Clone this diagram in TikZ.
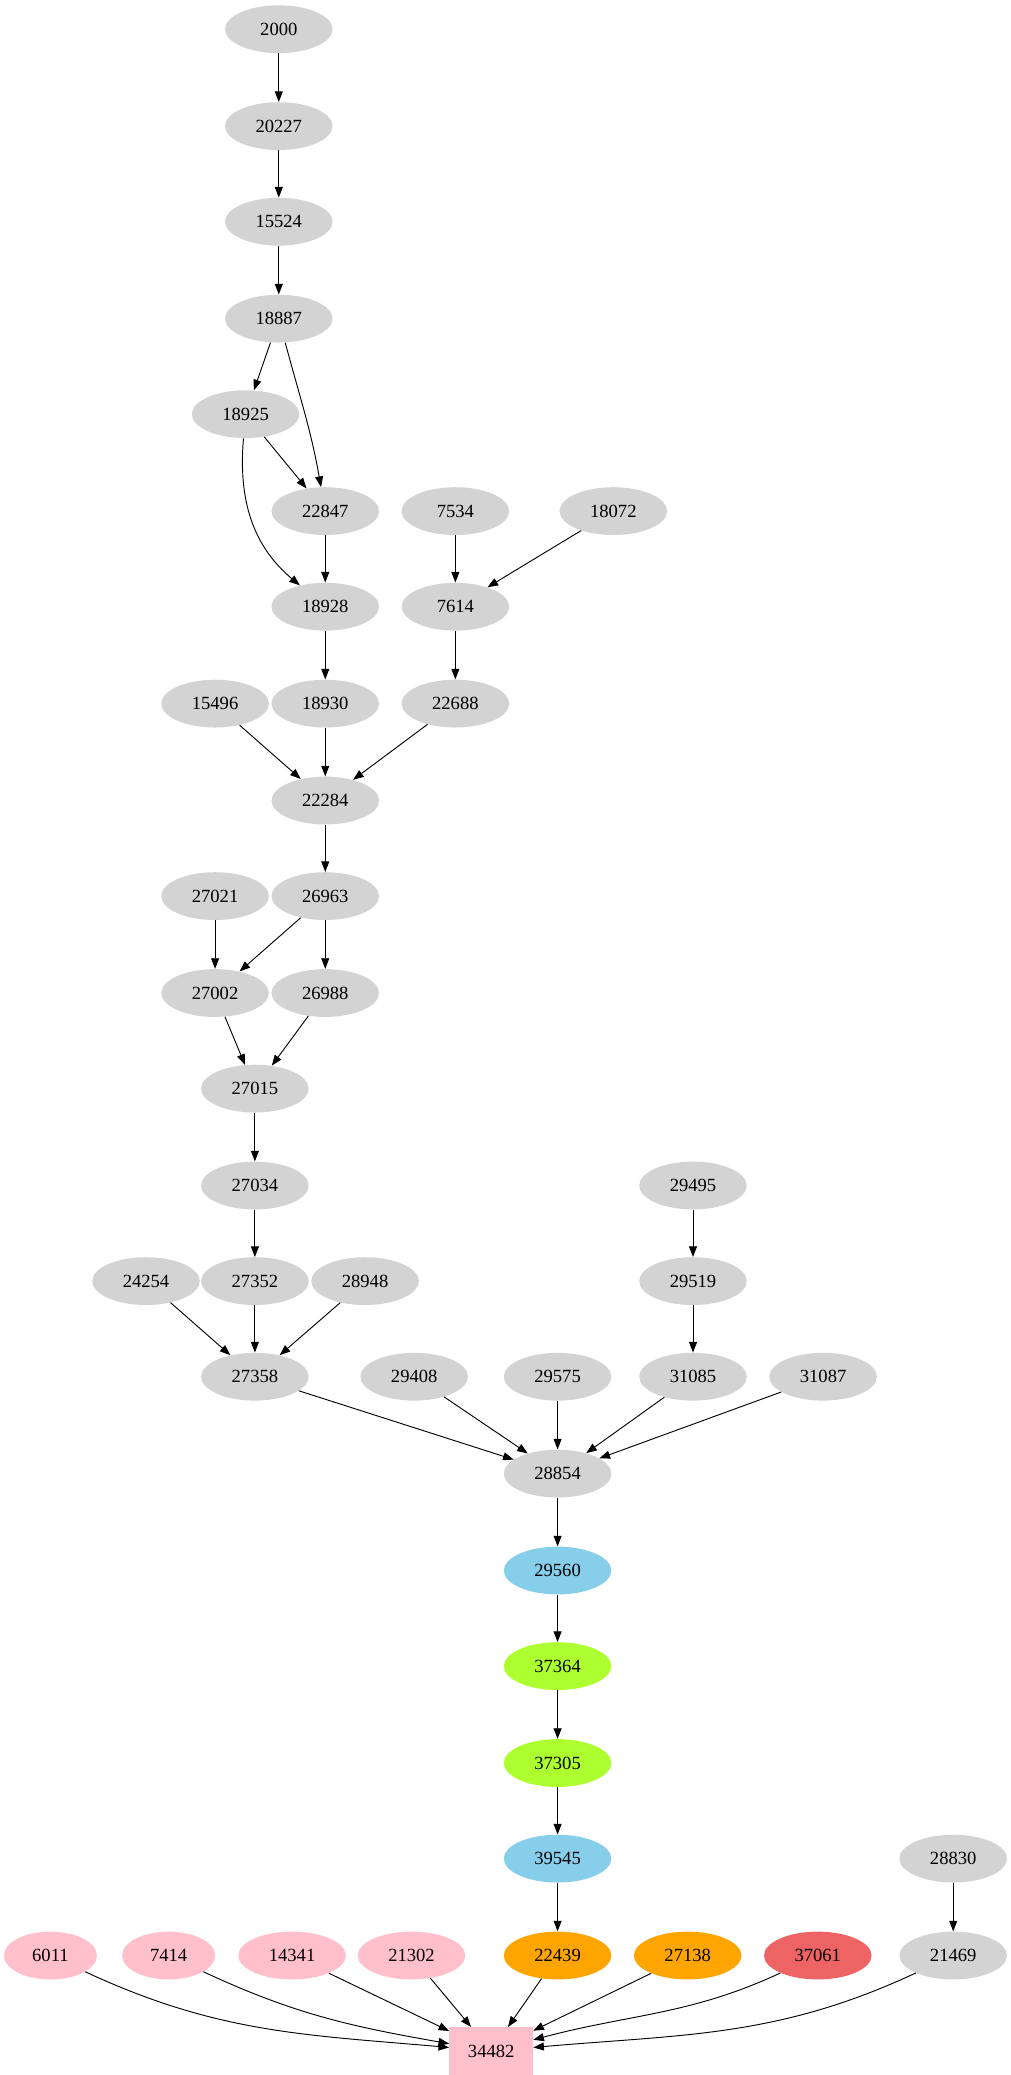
\documentclass[tikz,border=0pt]{standalone}
\usepackage{fontspec}
\setmainfont{Liberation Serif}
\usetikzlibrary{shapes.geometric,arrows.meta}
\definecolor{lg}{HTML}{D3D3D3}
\definecolor{pk}{HTML}{FFC0CB}
\definecolor{sb}{HTML}{87CEEB}
\definecolor{gy}{HTML}{ADFF2F}
\definecolor{orng}{HTML}{FFA500}
\definecolor{rd}{HTML}{EE6363}
\begin{document}
\begin{tikzpicture}[x=1pt,y=-1pt,
  nd/.style={ellipse,fill=lg,minimum width=81pt,minimum height=36pt,inner sep=0pt,font=\fontsize{14}{16}\selectfont},
  e/.style={-{Triangle[length=8pt,width=6pt]},line width=0.7pt}]
\useasboundingbox (0,0) rectangle (761,1563);
\node[nd] (n2000) at (210,22) {2000};
\node[nd] (n20227) at (210,95) {20227};
\node[nd] (n15524) at (210,167) {15524};
\node[nd] (n18887) at (210,240) {18887};
\node[nd] (n18925) at (185,312) {18925};
\node[nd] (n22847) at (245,385) {22847};
\node[nd] (n7534) at (343,385) {7534};
\node[nd] (n18072) at (462,385) {18072};
\node[nd] (n18928) at (245,457) {18928};
\node[nd] (n7614) at (343,457) {7614};
\node[nd] (n15496) at (162,530) {15496};
\node[nd] (n18930) at (245,530) {18930};
\node[nd] (n22688) at (343,530) {22688};
\node[nd] (n22284) at (245,603) {22284};
\node[nd] (n27021) at (162,675) {27021};
\node[nd] (n26963) at (245,675) {26963};
\node[nd] (n27002) at (162,748) {27002};
\node[nd] (n26988) at (245,748) {26988};
\node[nd] (n27015) at (192,820) {27015};
\node[nd] (n27034) at (192,893) {27034};
\node[nd] (n29495) at (522,893) {29495};
\node[nd] (n24254) at (110,965) {24254};
\node[nd] (n27352) at (192,965) {27352};
\node[nd] (n28948) at (275,965) {28948};
\node[nd] (n29519) at (522,965) {29519};
\node[nd] (n27358) at (192,1037) {27358};
\node[nd] (n29408) at (312,1037) {29408};
\node[nd] (n29575) at (420,1037) {29575};
\node[nd] (n31085) at (522,1037) {31085};
\node[nd] (n31087) at (620,1037) {31087};
\node[nd] (n28854) at (420,1110) {28854};
\node[nd,fill=sb] (n29560) at (420,1183) {29560};
\node[nd,fill=gy] (n37364) at (420,1255) {37364};
\node[nd,fill=gy] (n37305) at (420,1328) {37305};
\node[nd,fill=sb] (n39545) at (420,1400) {39545};
\node[nd] (n28830) at (718,1400) {28830};
\node[nd,fill=pk,minimum width=70pt] (n6011) at (38,1473) {6011};
\node[nd,fill=pk,minimum width=70pt] (n7414) at (127,1473) {7414};
\node[nd,fill=pk] (n14341) at (220,1473) {14341};
\node[nd,fill=pk] (n21302) at (310,1473) {21302};
\node[nd,fill=orng] (n22439) at (420,1473) {22439};
\node[nd,fill=orng] (n27138) at (518,1473) {27138};
\node[nd,fill=rd] (n37061) at (616,1473) {37061};
\node[nd] (n21469) at (718,1473) {21469};
\node[rectangle,fill=pk,minimum width=63pt,minimum height=36pt,inner sep=0pt,font=\fontsize{14}{16}\selectfont] (n34482) at (370,1545) {34482};
\draw[e] (n2000)--(n20227);
\draw[e] (n20227)--(n15524);
\draw[e] (n15524)--(n18887);
\draw[e] (n18887)--(n18925);
\draw[e] (n18887) to[out=-75,in=100] (n22847);
\draw[e] (n18925)--(n22847);
\draw[e] (n18925) to[out=-95,in=140] (n18928);
\draw[e] (n22847)--(n18928);
\draw[e] (n7534)--(n7614);
\draw[e] (n18072)--(n7614);
\draw[e] (n18928)--(n18930);
\draw[e] (n7614)--(n22688);
\draw[e] (n15496)--(n22284);
\draw[e] (n18930)--(n22284);
\draw[e] (n22688)--(n22284);
\draw[e] (n22284)--(n26963);
\draw[e] (n27021)--(n27002);
\draw[e] (n26963)--(n27002);
\draw[e] (n26963)--(n26988);
\draw[e] (n27002)--(n27015);
\draw[e] (n26988)--(n27015);
\draw[e] (n27015)--(n27034);
\draw[e] (n27034)--(n27352);
\draw[e] (n29495)--(n29519);
\draw[e] (n24254)--(n27358);
\draw[e] (n27352)--(n27358);
\draw[e] (n28948)--(n27358);
\draw[e] (n29519)--(n31085);
\draw[e] (n27358)--(n28854);
\draw[e] (n29408)--(n28854);
\draw[e] (n29575)--(n28854);
\draw[e] (n31085)--(n28854);
\draw[e] (n31087)--(n28854);
\draw[e] (n28854)--(n29560);
\draw[e] (n29560)--(n37364);
\draw[e] (n37364)--(n37305);
\draw[e] (n37305)--(n39545);
\draw[e] (n39545)--(n22439);
\draw[e] (n28830)--(n21469);
\draw[e] (n6011) to[out=-25,in=175] (n34482);
\draw[e] (n7414) to[out=-25,in=170] (n34482);
\draw[e] (n14341)--(n34482);
\draw[e] (n21302)--(n34482);
\draw[e] (n22439)--(n34482);
\draw[e] (n27138)--(n34482);
\draw[e] (n37061) to[out=-155,in=15] (n34482);
\draw[e] (n21469) to[out=-155,in=5] (n34482);
\end{tikzpicture}
\end{document}
